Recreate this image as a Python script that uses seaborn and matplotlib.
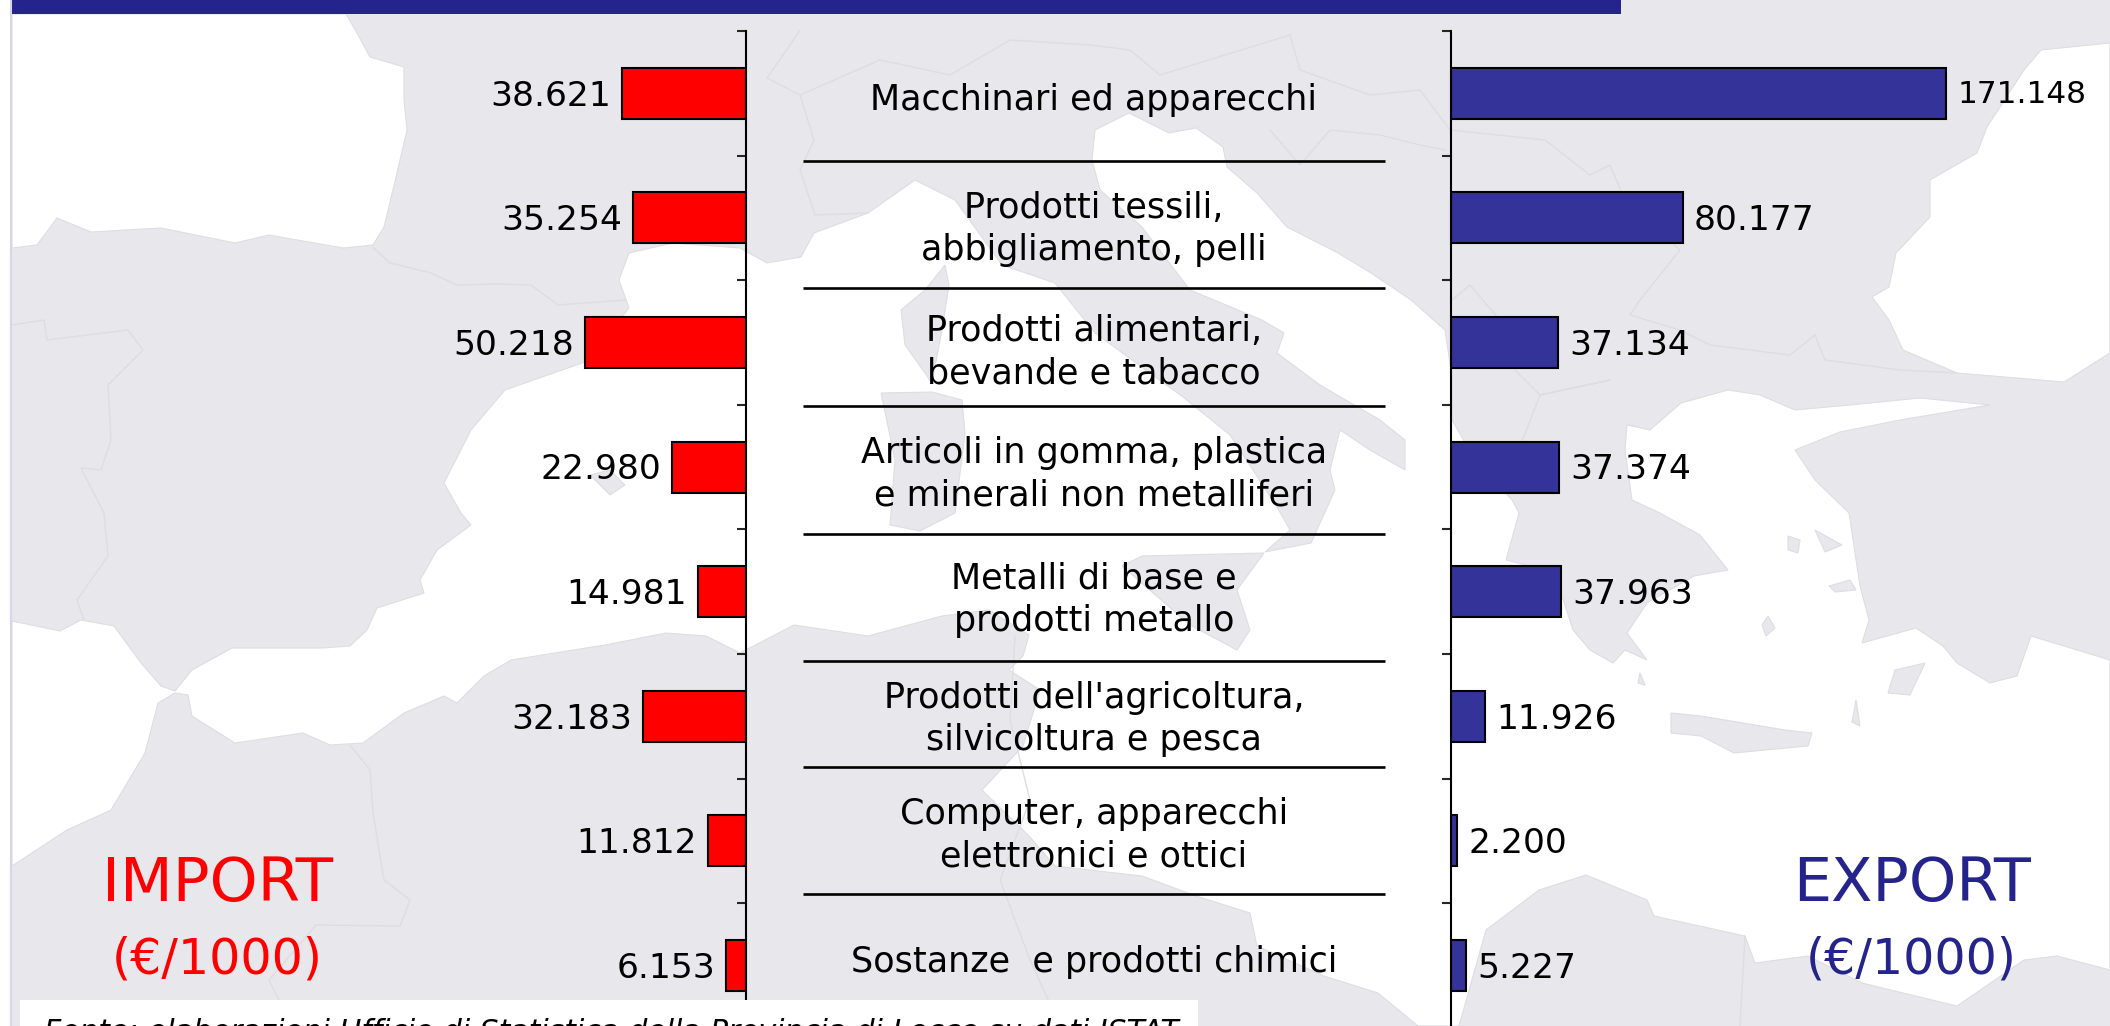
import pandas as pd
import matplotlib
matplotlib.use('Agg')
import matplotlib.pyplot as plt
import seaborn as sns
from matplotlib.patches import Polygon, Rectangle

# data
categories = ['Macchinari ed apparecchi', 'Prodotti tessili,\nabbigliamento, pelli',
              'Prodotti alimentari,\nbevande e tabacco',
              'Articoli in gomma, plastica\ne minerali non metalliferi',
              'Metalli di base e\nprodotti metallo', "Prodotti dell'agricoltura,\nsilvicoltura e pesca",
              'Computer, apparecchi\nelettronici e ottici', 'Sostanze  e prodotti chimici']
import_values = [38621, 35254, 50218, 22980, 14981, 32183, 11812, 6153]
export_values = [171148, 80177, 37134, 37374, 37963, 11926, 2200, 5227]
source_text = 'Fonte: elaborazioni Ufficio di Statistica della Provincia di Lecce su dati ISTAT'

# category label centres and separators, in pixels of the picture
label_y = [100, 229, 352, 474, 600, 719, 835, 962]
separator_y = [161, 288, 406, 534, 661, 767, 894]

# background map, traced by hand (pixels)
atlantic = [(12, 14), (346, 14), (357, 33), (370, 57), (404, 67), (404, 100), (407, 130), (397, 173),
            (384, 227), (373, 245), (343, 248), (269, 235), (235, 243), (161, 228), (91, 232),
            (57, 218), (37, 245), (12, 248)]
mediterranean = [(12, 621), (60, 631), (81, 620), (114, 626), (141, 663), (161, 686), (175, 691),
                 (192, 670), (232, 648), (323, 648), (350, 646), (367, 630), (377, 608), (424, 593),
                 (420, 580), (437, 550), (471, 525), (461, 513), (444, 483), (471, 430), (505, 390),
                 (585, 362), (629, 308), (619, 280), (629, 253), (673, 243), (740, 248), (767, 263),
                 (801, 257), (814, 233), (868, 213), (915, 180), (955, 200), (1002, 265), (1055, 283),
                 (1095, 333), (1183, 397), (1230, 435), (1277, 507), (1290, 530), (1265, 552),
                 (1311, 543), (1335, 490), (1330, 470), (1340, 430), (1370, 450), (1405, 470),
                 (1405, 440), (1380, 420), (1320, 385), (1277, 353), (1284, 333), (1262, 320),
                 (1190, 290), (1142, 227), (1100, 190), (1092, 160), (1095, 130), (1129, 113),
                 (1169, 133), (1196, 128), (1223, 147), (1227, 167), (1257, 193), (1287, 227),
                 (1338, 253), (1371, 273), (1411, 300), (1445, 330), (1452, 377), (1452, 420),
                 (1475, 460), (1512, 500), (1519, 513), (1506, 560), (1545, 570), (1560, 590),
                 (1573, 630), (1590, 650), (1613, 663), (1625, 650), (1647, 660), (1627, 633),
                 (1647, 603), (1694, 576), (1728, 570), (1700, 535), (1660, 513), (1632, 500),
                 (1625, 450), (1627, 425), (1650, 430), (1681, 403), (1728, 390), (1760, 395),
                 (1795, 410), (1850, 405), (1920, 398), (1990, 405), (1900, 420), (1840, 432),
                 (1795, 450), (1815, 480), (1849, 513), (1860, 586), (1869, 620), (1862, 643),
                 (1916, 628), (1943, 646), (1957, 663), (1990, 683), (2017, 676), (2031, 636),
                 (2110, 660), (2110, 970), (2057, 956), (2024, 960), (1957, 1006), (1862, 983),
                 (1808, 956), (1755, 963), (1745, 936), (1654, 916), (1647, 900), (1586, 875),
                 (1539, 890), (1486, 930), (1459, 1026), (1418, 1026), (1378, 993), (1324, 976),
                 (1257, 946), (1250, 913), (1196, 896), (1142, 876), (1055, 866), (1029, 836),
                 (982, 790), (1023, 746), (1040, 690), (1009, 670), (1023, 656), (1029, 635),
                 (989, 610), (942, 616), (868, 636), (794, 625), (740, 653), (706, 636), (666, 633),
                 (605, 645), (511, 660), (484, 676), (457, 703), (444, 696), (404, 713), (363, 743),
                 (330, 745), (303, 733), (235, 743), (192, 716), (188, 695), (175, 693), (158, 703),
                 (145, 753), (111, 810), (67, 830), (12, 866)]
black_sea = [(2041, 50), (2024, 70), (1987, 127), (1977, 153), (1930, 180), (1930, 217), (1896, 253),
             (1889, 287), (1872, 297), (1889, 320), (1903, 350), (1957, 373), (2064, 382), (2110, 353),
             (2110, 43)]
islands = [
    [(945, 265), (949, 285), (942, 330), (932, 383), (905, 345), (901, 310), (925, 290)],  # Corsica
    [(881, 393), (932, 392), (962, 400), (965, 433), (955, 513), (920, 531), (890, 525), (895, 460)],  # Sardinia
    [(1122, 566), (1142, 556), (1264, 553), (1237, 590), (1250, 630), (1237, 650), (1190, 625)],  # Sicily
    [(1671, 713), (1701, 716), (1785, 730), (1812, 733), (1808, 746), (1734, 753), (1701, 736), (1671, 733)],  # Crete
    [(590, 475), (610, 470), (625, 485), (610, 495)],
    [(1925, 663), (1910, 695), (1888, 693), (1895, 670)],
    [(1856, 700), (1860, 726), (1852, 722)],
    [(1768, 616), (1775, 628), (1766, 636), (1762, 625)],
    [(1829, 586), (1850, 580), (1856, 590), (1835, 592)],
    [(1788, 536), (1800, 540), (1798, 553), (1788, 550)],
    [(1815, 530), (1842, 545), (1825, 552)],
    [(1640, 673), (1645, 685), (1638, 683)],
]
borders = [
    [(373, 247), (390, 263), (431, 273), (457, 285), (498, 284), (531, 285), (558, 305), (626, 300)],
    [(12, 325), (44, 320), (47, 340), (87, 335), (128, 330), (143, 350), (108, 385), (111, 440),
     (101, 470), (81, 468), (104, 513), (108, 556), (77, 600), (84, 620)],
    [(350, 745), (370, 770), (373, 813), (384, 880), (410, 900), (400, 926), (316, 925), (269, 980), (279, 1000)],
    [(767, 78), (790, 45), (800, 30)],
    [(767, 78), (800, 95), (814, 140), (800, 170), (815, 215), (868, 213)],
    [(800, 95), (880, 60), (950, 75), (1010, 40), (1090, 45)],
    [(1090, 45), (1130, 50), (1160, 75), (1290, 35), (1300, 70), (1370, 95), (1420, 90), (1450, 130)],
    [(1270, 130), (1300, 165), (1330, 130), (1380, 135), (1420, 145), (1445, 150)],
    [(1450, 130), (1545, 140), (1590, 175), (1610, 165), (1625, 200), (1680, 250), (1640, 300), (1630, 315),
     (1680, 330), (1710, 345), (1790, 355), (1815, 335), (1825, 360), (1900, 370), (1957, 373)],
    [(1452, 300), (1470, 285), (1500, 320), (1490, 340)],
    [(1515, 370), (1540, 395), (1610, 380), (1540, 395), (1515, 460)],
    [(1015, 636), (1010, 720), (1030, 800), (1000, 880), (1030, 960), (1060, 1026)],
    [(1740, 1026), (1745, 936)],
]

LAND = '#E8E7EC'
BORDER = '#DEDDE3'
NAVY = '#24248C'
BAR_BLUE = '#333399'

W, H = 2110, 1026
sns.set_style('white')
plt.rcParams['font.family'] = ['DejaVu Sans']

fig = plt.figure(figsize=(W / 100, H / 100), dpi=100)


def px_axes(x0, x1, y0, y1, zorder):
    # axes from picture pixels (y measured from the top)
    return fig.add_axes([x0 / W, 1 - y1 / H, (x1 - x0) / W, (y1 - y0) / H], zorder=zorder)


# map behind everything
bg = px_axes(0, W, 0, H, 0)
bg.set_xlim(0, W)
bg.set_ylim(H, 0)
bg.axis('off')
bg.add_patch(Rectangle((12, 0), W - 12, H, fc=LAND, ec='none'))
for sea in [atlantic, mediterranean, black_sea]:
    bg.add_patch(Polygon(sea, fc='white', ec=BORDER, lw=0.8))
for isl in islands:
    bg.add_patch(Polygon(isl, fc=LAND, ec=BORDER, lw=0.8))
for line in borders:
    bg.plot(*zip(*line), color=BORDER, lw=1.0)

# category labels and separators
for text, y in zip(categories, label_y):
    bg.text(1094, y, text, ha='center', va='center', fontsize=25.2, color='black', linespacing=1.33)
bg.hlines(separator_y, 803, 1385, color='black', lw=1.9)

bg.text(218, 885, 'IMPORT', color='red', fontsize=44, ha='center', va='center')
bg.text(217, 960, '(€/1000)', color='red', fontsize=35.3, ha='center', va='center')
bg.text(1912, 885, 'EXPORT', color=NAVY, fontsize=43.5, ha='center', va='center')
bg.text(1911, 960, '(€/1000)', color=NAVY, fontsize=35.3, ha='center', va='center')

df = pd.DataFrame({'settore': categories, 'import': import_values, 'export': export_values})

# 8 rows of 124.6 px, starting at y=31
top, bottom = 31, 31 + 8 * 124.6
ax_imp = px_axes(400, 746, top, bottom, 2)
ax_exp = px_axes(1451, 2100, top, bottom, 2)
sides = [(ax_imp, 'import', 'red', 346 / 0.0032, 0), (ax_exp, 'export', BAR_BLUE, 0, 649 / 0.002892)]

for ax, col, colour, left, right in sides:
    sns.barplot(data=df, y='settore', x=col, color=colour, saturation=1, width=0.41,
                edgecolor='black', linewidth=1.5, ax=ax)
    ax.set_xlim(left, right)
    ax.set_ylim(7.5, -0.5)
    ax.patch.set_alpha(0)
    ax.set_xlabel('')
    ax.set_ylabel('')
    ax.set_xticks([])
    ax.set_yticks([i - 0.5 for i in range(9)])
    ax.set_yticklabels([])
    sns.despine(ax=ax, top=True, bottom=True, left=(col == 'import'), right=(col == 'export'))
    for s in ax.spines.values():
        s.set_linewidth(1.5)
        s.set_color('black')
    labels = [f'{v:,}'.replace(',', '.') for v in df[col]]
    texts = ax.bar_label(ax.containers[0], labels=labels, padding=8, fontsize=24.8, color='black', clip_on=False)
    for t in texts:
        t.xyann = (t.xyann[0], t.xyann[1] - 2)
    if col == 'export':
        texts[0].set_fontsize(22.4)
        texts[0].xyann = (texts[0].xyann[0], texts[0].xyann[1] + 1)

ax_imp.yaxis.tick_right()
ax_imp.tick_params(axis='y', direction='in', length=6.5, width=1.5)
ax_exp.tick_params(axis='y', direction='out', length=6.5, width=1.5, left=True)

# things on top: title band, frame line, source box
over = px_axes(0, W, 0, H, 5)
over.set_xlim(0, W)
over.set_ylim(H, 0)
over.axis('off')
over.add_patch(Rectangle((12, 0), 1609, 14, fc=NAVY, ec='none'))
over.vlines(11, 0, H, color='#D6D6E6', lw=1.5)
over.add_patch(Rectangle((20, 1000), 1178, 30, fc='white', ec='none'))
over.text(44, 1018, source_text, style='italic', fontsize=21.5, color='black', ha='left', va='top')

plt.savefig('out.png', dpi=100)
